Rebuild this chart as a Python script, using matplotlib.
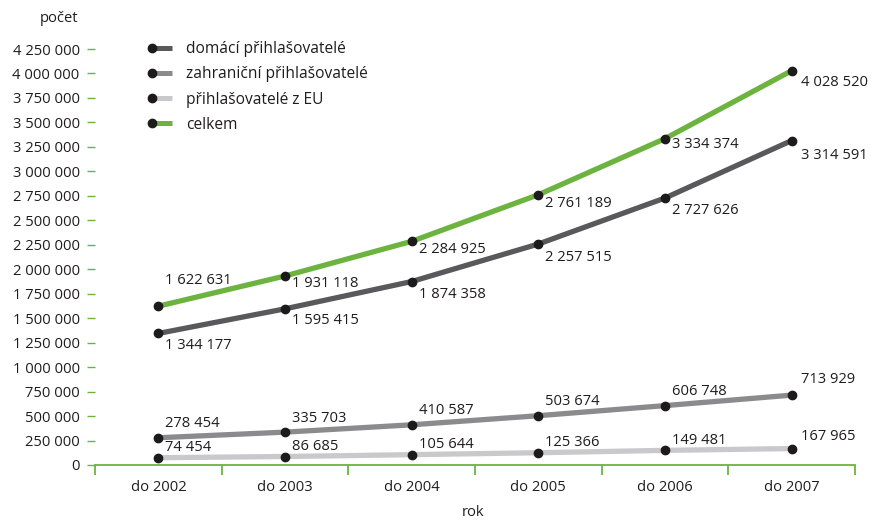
import matplotlib
matplotlib.use("Agg")
import matplotlib.pyplot as plt
from matplotlib.lines import Line2D
from matplotlib.legend_handler import HandlerBase
from matplotlib.ticker import FuncFormatter, FixedLocator

plt.rcParams['font.family'] = ['Open Sans', 'DejaVu Sans']
plt.rcParams['font.weight'] = 'medium'

years = ["do 2002", "do 2003", "do 2004", "do 2005", "do 2006", "do 2007"]
domaci = [1344177, 1595415, 1874358, 2257515, 2727626, 3314591]
zahranicni = [278454, 335703, 410587, 503674, 606748, 713929]
eu = [74454, 86685, 105644, 125366, 149481, 167965]
celkem = [1622631, 1931118, 2284925, 2761189, 3334374, 4028520]

series_names = ["domácí přihlašovatelé", "zahraniční přihlašovatelé",
                "přihlašovatelé z EU", "celkem"]
y_ticks = list(range(0, 4250001, 250000))

GREEN = "#6cb33f"
TEXT = "#1f1c1d"
DOT = "#1c1a1b"
colors = ["#59595b", "#8b8b8d", "#c9c9cb", GREEN]
FS = 10.6


def fmt(v):
    return f"{int(v):,}".replace(",", " ")


fig = plt.figure(figsize=(8.72, 5.21), dpi=100)
ax = fig.add_axes([95 / 872, 56 / 521, 760 / 872, 416 / 521])

x = list(range(len(years)))
all_series = [domaci, zahranicni, eu, celkem]
for vals, col in zip(all_series, colors):
    ax.plot(x, vals, color=col, lw=3.8, solid_capstyle='butt', zorder=2)
    ax.plot(x, vals, ls='none', marker='o', ms=6, color=DOT, zorder=3)

# value labels: per-point offsets in pixels (dx, dy downward)
def put(vals, offsets):
    for i, (v, (dx, dy)) in enumerate(zip(vals, offsets)):
        ax.annotate(fmt(v), (i, v), xytext=(dx * 0.72, -dy * 0.72),
                    textcoords='offset points', ha='left', va='center',
                    fontsize=FS, color=TEXT, zorder=4)

put(celkem, [(7, -26), (7, 8), (7, 8), (7, 9), (7, 6), (9, 12)])
put(domaci, [(7, 12), (7, 12), (7, 13), (7, 13), (7, 12), (9, 15)])
put(zahranicni, [(7, -14)] * 5 + [(9, -16)])
put(eu, [(7, -10)] * 5 + [(9, -12)])

ax.set_xlim(-0.5, len(years) - 0.5)
ax.set_ylim(0, y_ticks[-1])

ax.set_yticks(y_ticks)
ax.yaxis.set_major_formatter(FuncFormatter(lambda v, p: fmt(v)))
ax.tick_params(axis='y', direction='out', length=6, width=1, color=GREEN,
               pad=5, labelsize=FS, labelcolor=TEXT)

ax.set_xticks(x)
ax.set_xticklabels(years)
ax.xaxis.set_minor_locator(FixedLocator([i - 0.5 for i in range(len(years) + 1)]))
ax.tick_params(axis='x', which='major', length=0, pad=11, labelsize=FS, labelcolor=TEXT)
ax.tick_params(axis='x', which='minor', direction='out', length=7.5, width=1.3, color=GREEN)

for s in ['top', 'right', 'left']:
    ax.spines[s].set_visible(False)
ax.spines['bottom'].set_color(GREEN)
ax.spines['bottom'].set_linewidth(1.3)


class DotLineHandler(HandlerBase):
    def create_artists(self, legend, orig_handle, xdescent, ydescent,
                       width, height, fontsize, trans):
        y = height / 2 - ydescent
        line = Line2D([-xdescent, width - xdescent], [y, y],
                      color=orig_handle.get_color(), lw=3.6,
                      solid_capstyle='butt', transform=trans)
        dot = Line2D([-xdescent], [y], ls='none', marker='o', ms=6,
                     color=DOT, transform=trans)
        return [line, dot]


LFS = 11.2
handles = [Line2D([], [], color=c) for c in colors]
leg = ax.legend(handles, series_names, loc='upper left',
                bbox_to_anchor=((150 - 95) / 760 - 0.008, 1.037),
                frameon=False, fontsize=LFS, handlelength=1.4 * FS / LFS,
                handletextpad=0.95 * FS / LFS, labelspacing=0.66 * FS / LFS - 0.04,
                borderpad=0, labelcolor=TEXT,
                handler_map={Line2D: DotLineHandler()})

fig.text(59 / 872, 1 - 18 / 521, "počet", ha='center', va='center',
         fontsize=FS, color=TEXT)
fig.text(473 / 872, 1 - 512 / 521, "rok", ha='center', va='center',
         fontsize=FS, color=TEXT)

fig.savefig("out.png", dpi=100)
